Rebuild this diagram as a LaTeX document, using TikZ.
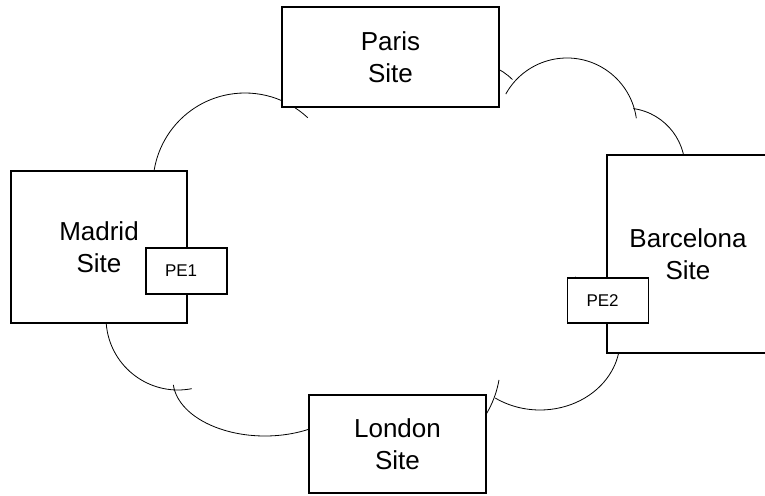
\documentclass[tikz,border=0pt]{standalone}
\usepackage{fontspec}
\setmainfont{Liberation Sans}
\tikzset{
	site/.style={draw, line width=2pt, fill=white, align=center, inner sep=0pt, font=\fontsize{26}{31.5}\selectfont},
	pe/.style={draw, line width=1.6pt, fill=white, align=left, text width=43pt, inner xsep=19pt, inner ysep=0pt, font=\fontsize{17}{20}\selectfont},
	bump/.style={line width=0.8pt},
}

\begin{document}
\begin{tikzpicture}[x=1pt, y=1pt]
		\clip (0,0) rectangle (765,495);

		% Cloud, one bump after the other (the sites cover parts of it)
		\draw[bump] ([shift={(190:92)}]245,310) arc[start angle=190, end angle=47, radius=92];
		\draw[bump] ([shift={(150:60)}]470,373) arc[start angle=150, end angle=45, radius=60];
		\draw[bump] ([shift={(151:70)}]567,367) arc[start angle=151, end angle=8, radius=70];
		\draw[bump] ([shift={(82:60)}]625,327) arc[start angle=82, end angle=-40, radius=60];
		\draw[bump] ([shift={(64:80 and 70)}]540,155) arc[start angle=64, end angle=-124, x radius=80, y radius=70];
		\draw[bump] ([shift={(-10:100)}]400.5,132.4) arc[start angle=-10, end angle=-80, radius=100];
		\draw[bump] ([shift={(-33:92 and 56)}]265,115) arc[start angle=-33, end angle=-175, x radius=92, y radius=56];
		\draw[bump] ([shift={(-79:72)}]178,177) arc[start angle=-79, end angle=-200, radius=72];

		% Sites
		\node[site, minimum width=217pt, minimum height=100pt] (paris) at (390.5,438) {Paris\\Site};
		\node[site, minimum width=176pt, minimum height=152pt] (madrid) at (99,248) {Madrid\\Site};
		\node[site, minimum width=162pt, minimum height=198pt] (barcelona) at (688,241) {Barcelona\\Site};
		\node[site, minimum width=177pt, minimum height=98pt] (london) at (397.5,51) {London\\Site};

		% Provider edges
		\node[pe, minimum height=46pt] (pe1) at (186.5,224) {PE1};
		\node[pe, minimum height=45pt] (pe2) at (608,194.5) {PE2};
	\end{tikzpicture}
\end{document}
